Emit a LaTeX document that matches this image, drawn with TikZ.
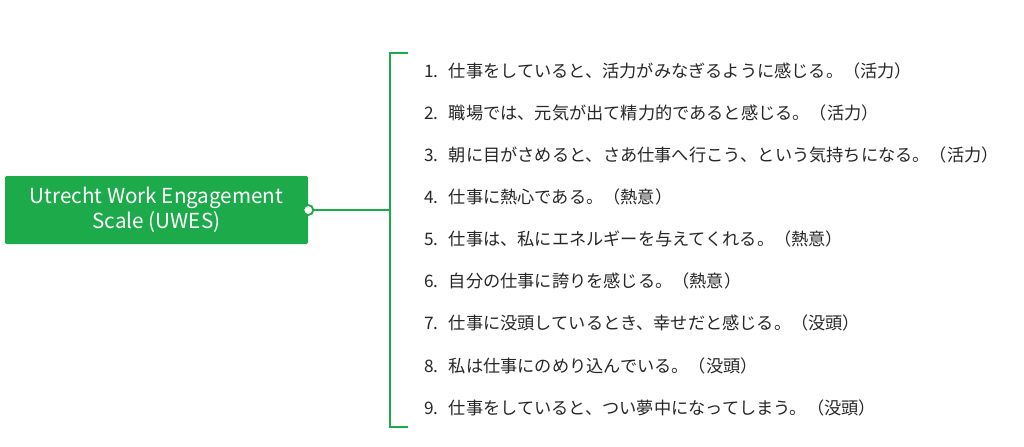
\documentclass[tikz,border=0pt]{standalone}
\usepackage{fontspec}
\setmainfont{Noto Sans CJK JP}
\definecolor{g}{HTML}{1DAA4B}
\begin{document}
\begin{tikzpicture}[x=0.75pt,y=-0.75pt,
  item/.style={anchor=west,inner sep=0pt,font=\fontsize{12.9pt}{14pt}\selectfont,text=black!85},
  ln/.style={draw=g,line width=1.4pt}]
\useasboundingbox (0,0) rectangle (1024,446);
\node[fill=g,rounded corners=1pt,minimum width=303*0.75pt,minimum height=68*0.75pt,text=white,align=center,inner sep=0pt,font=\fontsize{15.5pt}{19pt}\selectfont] (root) at (156.5,210) {Utrecht Work Engagement\\Scale (UWES)};
\coordinate (b) at (390,210);
\coordinate (t) at (390,53);
\coordinate (bt) at (390,427);
\coordinate (tt) at (408,53);
\coordinate (bb) at (408,427);
\draw[ln] (root.east) -- (b);
\draw[ln] (tt) -- (t) -- (bt) -- (bb);
\node[circle,draw=g,fill=white,line width=1.4pt,minimum size=10*0.75pt,inner sep=0pt] (c) at (root.east) {};
\foreach \i/\y/\t in {1/71/仕事をしていると、活力がみなぎるように感じる。（活力）,
2/113/職場では、元気が出て精力的であると感じる。（活力）,
3/155/朝に目がさめると、さあ仕事へ行こう、という気持ちになる。（活力）,
4/197/仕事に熱心である。（熱意）,
5/239/仕事は、私にエネルギーを与えてくれる。（熱意）,
6/281/自分の仕事に誇りを感じる。（熱意）,
7/323/仕事に没頭しているとき、幸せだと感じる。（没頭）,
8/366/私は仕事にのめり込んでいる。（没頭）,
9/408/仕事をしていると、つい夢中になってしまう。（没頭）}
  \node[item] (i\i) at (424,\y) {\i.\hspace{0.6em}\t};
\end{tikzpicture}
\end{document}
